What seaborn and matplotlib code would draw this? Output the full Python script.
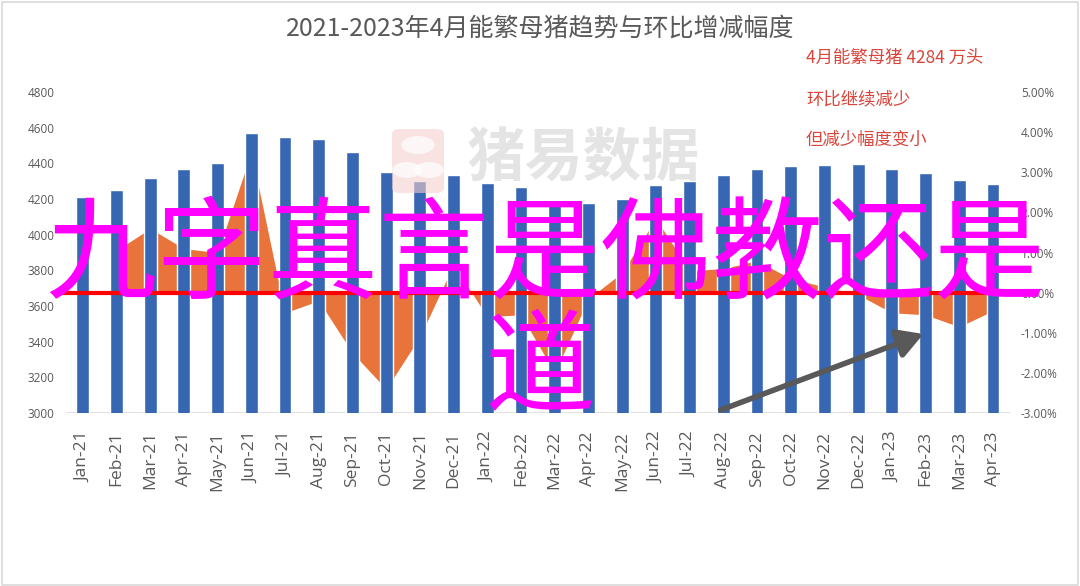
import numpy as np
import pandas as pd
import matplotlib
matplotlib.use("Agg")
import matplotlib.pyplot as plt
import matplotlib.transforms as mtransforms
from matplotlib.patches import FancyArrowPatch, FancyBboxPatch, Circle, Rectangle
import seaborn as sns

months = ["Jan-21", "Feb-21", "Mar-21", "Apr-21", "May-21", "Jun-21", "Jul-21", "Aug-21",
          "Sep-21", "Oct-21", "Nov-21", "Dec-21", "Jan-22", "Feb-22", "Mar-22", "Apr-22",
          "May-22", "Jun-22", "Jul-22", "Aug-22", "Sep-22", "Oct-22", "Nov-22", "Dec-22",
          "Jan-23", "Feb-23", "Mar-23", "Apr-23"]
sows = [4210, 4250, 4320, 4371, 4404, 4569, 4545, 4536, 4466, 4354, 4301, 4333,
        4292, 4269, 4185, 4180, 4198, 4277, 4301, 4333, 4367, 4384, 4391, 4395,
        4371, 4348, 4309, 4284]
mom_pct = [np.nan, 1.05, 1.6, 1.1, 1.0, 3.5, -0.5, -0.2, -1.5, -2.4, -1.1, 0.7,
           -0.6, -0.55, -2.0, -0.15, 0.5, 1.85, 0.55, 0.6, 0.8, 0.35, 0.15, -0.05,
           -0.5, -0.55, -0.85, -0.45]
left_ticks = [3000, 3200, 3400, 3600, 3800, 4000, 4200, 4400, 4600, 4800]
right_ticks = [-3, -2, -1, 0, 1, 2, 3, 4, 5]

title = "2021-2023年4月能繁母猪趋势与环比增减幅度"
notes = ["4月能繁母猪 4284 万头", "环比继续减少", "但减少幅度变小"]
overlay1 = "九字真言是佛教还是"
overlay2 = "道"
watermark = "猪易数据"

sns.set_theme(style="white")
plt.rcParams['font.family'] = ['Noto Sans CJK SC', 'DejaVu Sans']

df = pd.DataFrame({"month": months, "sows": sows, "mom": mom_pct})

fig = plt.figure(figsize=(10.8, 5.86), dpi=100)
fig.patch.set_facecolor("white")
ax = fig.add_axes([0.061, 0.295, 0.874, 0.548])
ax2 = ax.twinx()
ax2.set_zorder(ax.get_zorder() - 1)
ax.patch.set_visible(False)
ax2.patch.set_facecolor("white")

# area (behind bars)
x = np.arange(len(months))
ax2.fill_between(x, 0, df["mom"].values, color="#E8743B", linewidth=0)
ax2.set_ylim(-3, 5)
ax2.set_yticks(right_ticks)
ax2.set_yticklabels([f"{v:.2f}%" for v in right_ticks], family="Open Sans",
                    fontsize=8.5, color="#595959")

# bars
sns.barplot(data=df, x="month", y="sows", color="#3767B3", width=0.38,
            saturation=1, ax=ax, zorder=2)
ax.set_ylim(3000, 4800)
ax.set_xlim(-0.5, len(months) - 0.5)
ax.set_yticks(left_ticks)
ax.set_yticklabels([str(v) for v in left_ticks], family="Open Sans",
                   fontsize=8.5, color="#595959")
ax.set_xticks(x)
ax.set_xticklabels(months, rotation=90, family="Open Sans", fontsize=12.5, color="#595959")
ax.set_xlabel("")
ax.set_ylabel("")
ax.tick_params(axis="x", length=0, pad=13)
ax.tick_params(axis="y", length=0, pad=8)
ax2.tick_params(axis="y", length=0, pad=8)
for a in (ax, ax2):
    for s in ("top", "left", "right", "bottom"):
        a.spines[s].set_visible(False)
ax.axhline(3000, color="#D9D9D9", linewidth=1.2, zorder=1)

# red zero line (0% of right axis), above bars
trans = mtransforms.blended_transform_factory(ax.transAxes, ax2.transData)
ax.plot([-0.01, 0.995], [0, 0], color="#FF0000", linewidth=3, transform=trans,
        zorder=5, clip_on=False)

# title
fig.text(0.5, 0.952, title, ha="center", va="center", fontsize=18, color="#595959")

# notes
for i, t in enumerate(notes):
    fig.text(806 / 1080, 1 - (58 + 41 * i) / 586, t, ha="left", va="center",
             fontsize=12.5, color="#D9453B")

# watermark logo and text
logo = FancyBboxPatch((392 / 1080, 1 - 193 / 586), 52 / 1080, 64 / 586,
                      boxstyle="round,pad=0,rounding_size=0.008",
                      transform=fig.transFigure, facecolor="#F5CFCF", edgecolor="none",
                      alpha=0.6, zorder=20)
fig.add_artist(logo)
for cx, cy, r in [(418, 145, 9), (407, 170, 8), (429, 170, 8)]:
    fig.add_artist(Circle((cx / 1080, 1 - cy / 586), r / 586, transform=fig.transFigure,
                          facecolor="white", edgecolor="none", alpha=0.7, zorder=21))
fig.text(583 / 1080, 1 - 160 / 586, watermark, ha="center", va="center", fontsize=42,
         color="#BDBDBD", alpha=0.4, fontweight="bold", zorder=20)

# gray arrow
arrow = FancyArrowPatch((718 / 1080, 1 - 411 / 586), (926 / 1080, 1 - 333 / 586),
                        transform=fig.transFigure, arrowstyle="-|>,head_length=7,head_width=4",
                        mutation_scale=2.2, color="#595959", linewidth=4, zorder=22)
fig.add_artist(arrow)

# magenta overlay
fig.text(545 / 1080, 1 - 258 / 586, overlay1, ha="center", va="center", fontsize=80,
         color="#FF00FF", zorder=30)
fig.text(540 / 1080, 1 - 370 / 586, overlay2, ha="center", va="center", fontsize=80,
         color="#FF00FF", zorder=30)

# figure border
fig.add_artist(Rectangle((0.002, 0.002), 0.996, 0.994, transform=fig.transFigure,
                         fill=False, edgecolor="#D9D9D9", linewidth=1.2, zorder=40))

fig.savefig("out.png", dpi=100)
